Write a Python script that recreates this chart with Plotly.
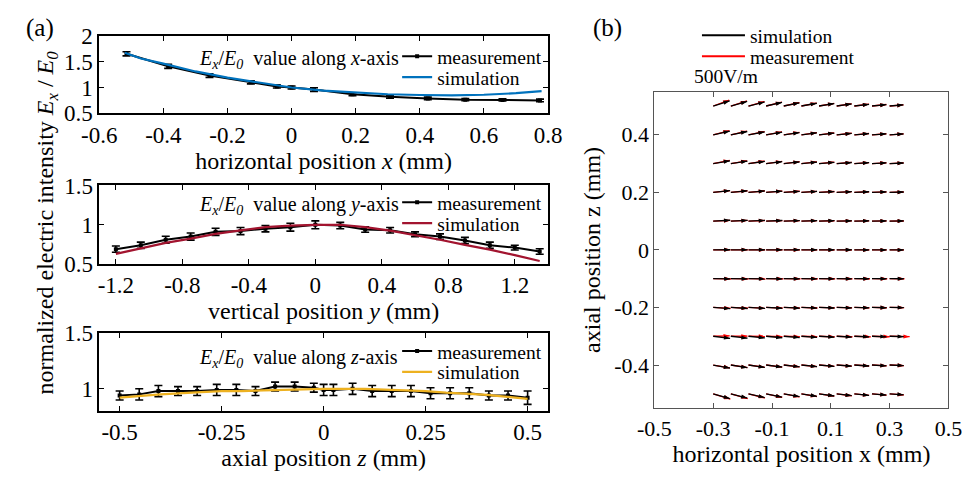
import math
import plotly.graph_objects as go

FONT = "Liberation Serif, Times New Roman, serif"
W, H = 975, 479

# ---------------- data : panel (a), along x ----------------
ax_meas_pos = [-0.515, -0.385, -0.256, -0.127, -0.046, 0.0, 0.07, 0.19, 0.307, 0.425, 0.542, 0.658, 0.775]
ax_meas_val = [1.65, 1.41, 1.23, 1.10, 1.02, 1.00, 0.96, 0.87, 0.82, 0.79, 0.765, 0.76, 0.75]
ax_meas_err = [0.04, 0.04, 0.035, 0.03, 0.03, 0.03, 0.035, 0.03, 0.025, 0.025, 0.02, 0.02, 0.025]
ax_sim_pos = [-0.52, -0.47, -0.4, -0.3, -0.2, -0.1, 0.0, 0.1, 0.2, 0.3, 0.4, 0.5, 0.6, 0.7, 0.78]
ax_sim_val = [1.67, 1.56, 1.46, 1.31, 1.19, 1.09, 1.00, 0.94, 0.90, 0.87, 0.855, 0.85, 0.86, 0.89, 0.93]

# ---------------- data : panel (a), along y ----------------
ay_meas_pos = [-1.2, -1.05, -0.9, -0.75, -0.6, -0.45, -0.3, -0.15, 0.0, 0.15, 0.3, 0.45, 0.6, 0.75, 0.9, 1.05, 1.2, 1.35]
ay_meas_val = [0.69, 0.74, 0.81, 0.85, 0.91, 0.92, 0.95, 0.97, 1.00, 0.99, 0.94, 0.93, 0.88, 0.85, 0.80, 0.74, 0.71, 0.66]
ay_meas_err = [0.04, 0.04, 0.045, 0.045, 0.045, 0.045, 0.04, 0.05, 0.05, 0.04, 0.035, 0.035, 0.03, 0.035, 0.04, 0.04, 0.03, 0.035]
ay_sim_pos = [-1.2, -1.05, -0.9, -0.75, -0.6, -0.45, -0.3, -0.15, 0.0, 0.15, 0.3, 0.45, 0.6, 0.75, 0.9, 1.05, 1.2, 1.35]
ay_sim_val = [0.63, 0.70, 0.77, 0.825, 0.885, 0.93, 0.97, 0.99, 1.00, 1.00, 0.97, 0.925, 0.87, 0.81, 0.745, 0.685, 0.615, 0.54]

# ---------------- data : panel (a), along z ----------------
az_meas_pos = [-0.5, -0.452, -0.405, -0.357, -0.31, -0.262, -0.214, -0.167, -0.119, -0.071, -0.024, 0.0,
               0.024, 0.071, 0.119, 0.167, 0.214, 0.262, 0.31, 0.357, 0.405, 0.452, 0.5]
az_meas_val = [0.94, 0.95, 0.98, 0.98, 0.98, 0.99, 0.99, 0.98, 1.02, 1.02, 1.01, 0.99,
               0.99, 1.00, 0.98, 0.98, 0.98, 0.96, 0.96, 0.96, 0.94, 0.94, 0.92]
az_meas_err = [0.04, 0.05, 0.05, 0.04, 0.04, 0.05, 0.05, 0.04, 0.04, 0.04, 0.04, 0.05,
               0.05, 0.05, 0.05, 0.05, 0.05, 0.05, 0.05, 0.05, 0.04, 0.04, 0.06]
az_sim_pos = [-0.5, -0.4, -0.3, -0.25, -0.2, -0.1, 0.0, 0.1, 0.2, 0.25, 0.3, 0.4, 0.5]
az_sim_val = [0.92, 0.95, 0.97, 0.98, 0.98, 0.99, 1.00, 1.00, 0.985, 0.98, 0.965, 0.945, 0.91]

# ---------------- tick labels ----------------
ax_ticks = [-0.6, -0.4, -0.2, 0, 0.2, 0.4, 0.6, 0.8]
ax_ticktext = ["-0.6", "-0.4", "-0.2", "0", "0.2", "0.4", "0.6", "0.8"]
ay_ticks = [-1.2, -0.8, -0.4, 0, 0.4, 0.8, 1.2]
ay_ticktext = ["-1.2", "-0.8", "-0.4", "0", "0.4", "0.8", "1.2"]
az_ticks = [-0.5, -0.25, 0, 0.25, 0.5]
az_ticktext = ["-0.5", "-0.25", "0", "0.25", "0.5"]
b_xticks = [-0.5, -0.3, -0.1, 0.1, 0.3, 0.5]
b_xticktext = ["-0.5", "-0.3", "-0.1", "0.1", "0.3", "0.5"]
b_yticks = [-0.4, -0.2, 0, 0.2, 0.4]
b_yticktext = ["-0.4", "-0.2", "0", "0.2", "0.4"]

# ---------------- data : panel (b), vector field (V/m) ----------------
x_grid = [-0.3, -0.24, -0.18, -0.12, -0.06, 0.0, 0.06, 0.12, 0.18, 0.24, 0.3]
z_grid = [0.5, 0.4, 0.3, 0.2, 0.1, 0.0, -0.1, -0.2, -0.3, -0.4, -0.5]

Ex_sim = [
    [560, 555, 548, 540, 532, 524, 516, 508, 500, 490, 470],
    [565, 558, 550, 542, 534, 526, 518, 510, 500, 490, 475],
    [570, 562, 554, 546, 538, 530, 520, 512, 502, 492, 478],
    [575, 566, 558, 550, 540, 532, 522, 514, 504, 494, 480],
    [578, 570, 560, 552, 544, 534, 525, 516, 506, 496, 482],
    [580, 572, 562, 554, 545, 536, 526, 517, 507, 497, 483],
    [580, 572, 562, 554, 545, 536, 526, 517, 507, 497, 483],
    [578, 570, 560, 552, 544, 534, 525, 516, 506, 496, 482],
    [575, 566, 558, 550, 540, 532, 522, 514, 504, 494, 480],
    [570, 562, 554, 546, 538, 530, 520, 512, 502, 492, 478],
    [565, 558, 550, 542, 534, 526, 518, 510, 500, 490, 475],
]
Ez_sim = [
    [180, 160, 142, 125, 110, 96, 84, 72, 60, 50, 40],
    [128, 114, 101, 89, 78, 68, 59, 50, 42, 35, 28],
    [95, 85, 75, 66, 58, 51, 44, 37, 31, 26, 20],
    [60, 54, 48, 42, 37, 32, 28, 24, 20, 16, 12],
    [30, 27, 24, 21, 18, 16, 14, 12, 10, 8, 6],
    [5, 4, 4, 3, 3, 2, 2, 2, 1, 1, 1],
    [-10, -9, -8, -7, -6, -5, -4, -4, -3, -3, -2],
    [-40, -36, -32, -28, -24, -21, -18, -15, -12, -10, -8],
    [-75, -67, -59, -52, -45, -39, -33, -28, -23, -19, -15],
    [-105, -94, -83, -73, -64, -56, -48, -41, -34, -28, -22],
    [-165, -148, -131, -116, -102, -89, -77, -66, -55, -45, -36],
]
Ex_meas = [
    [545, 548, 545, 540, 532, 524, 516, 508, 500, 490, 470],
    [552, 552, 548, 542, 534, 526, 518, 510, 500, 490, 475],
    [560, 558, 552, 546, 538, 530, 520, 512, 502, 492, 478],
    [572, 565, 558, 550, 540, 532, 522, 514, 504, 494, 480],
    [575, 568, 560, 552, 544, 534, 525, 516, 506, 496, 482],
    [585, 578, 568, 560, 550, 540, 530, 520, 510, 500, 486],
    [605, 598, 588, 580, 570, 560, 550, 540, 530, 520, 505],
    [590, 582, 572, 564, 555, 545, 535, 526, 516, 506, 495],
    [560, 565, 560, 555, 548, 540, 535, 540, 560, 600, 680],
    [570, 564, 556, 548, 540, 532, 522, 514, 506, 500, 490],
    [585, 575, 562, 550, 540, 530, 520, 512, 504, 495, 485],
]
Ez_meas = [
    [205, 178, 155, 135, 118, 102, 88, 75, 62, 52, 40],
    [145, 128, 112, 98, 85, 74, 63, 53, 44, 36, 28],
    [110, 97, 85, 74, 64, 55, 47, 40, 33, 27, 21],
    [62, 55, 49, 43, 38, 33, 29, 24, 20, 16, 12],
    [25, 23, 21, 19, 17, 15, 13, 11, 9, 7, 5],
    [3, 3, 2, 2, 2, 1, 1, 1, 0, 0, 0],
    [-8, -7, -6, -6, -5, -5, -4, -4, -3, -3, -2],
    [-30, -28, -25, -22, -20, -18, -16, -14, -12, -10, -8],
    [15, 5, -5, -10, -15, -18, -20, -20, -20, -18, -15],
    [-100, -90, -80, -70, -62, -54, -46, -40, -34, -28, -22],
    [-185, -165, -145, -125, -108, -94, -80, -68, -57, -47, -38],
]
SCALE = 1.0e-4   # mm of arrow per V/m

BLACK = "#000000"
BLUE = "#0072BD"
DARKRED = "#A2142F"
ORANGE = "#EDB120"
RED = "#FF0000"


def fx(px):
    return px / W


def fy(py):
    return 1 - py / H


fig = go.Figure()


def meas_trace(xs, ys, err, xa, ya, leg):
    return go.Scatter(
        x=xs, y=ys, xaxis=xa, yaxis=ya, legend=leg, name="measurement",
        mode="lines+markers", line=dict(color=BLACK, width=2),
        marker=dict(color=BLACK, size=4, symbol="square"),
        error_y=dict(type="data", array=err, visible=True, color=BLACK, thickness=1.6, width=4),
    )


def sim_trace(xs, ys, color, xa, ya, leg):
    return go.Scatter(
        x=xs, y=ys, xaxis=xa, yaxis=ya, legend=leg, name="simulation",
        mode="lines", line=dict(color=color, width=2.2),
    )


fig.add_trace(meas_trace(ax_meas_pos, ax_meas_val, ax_meas_err, "x", "y", "legend"))
fig.add_trace(sim_trace(ax_sim_pos, ax_sim_val, BLUE, "x", "y", "legend2"))
fig.add_trace(meas_trace(ay_meas_pos, ay_meas_val, ay_meas_err, "x2", "y2", "legend3"))
fig.add_trace(sim_trace(ay_sim_pos, ay_sim_val, DARKRED, "x2", "y2", "legend4"))
fig.add_trace(meas_trace(az_meas_pos, az_meas_val, az_meas_err, "x3", "y3", "legend5"))
fig.add_trace(sim_trace(az_sim_pos, az_sim_val, ORANGE, "x3", "y3", "legend6"))


def quiver(Ex, Ez):
    xs, ys, hx, hy, ang = [], [], [], [], []
    for i, z in enumerate(z_grid):
        for j, x in enumerate(x_grid):
            dx = Ex[i][j] * SCALE
            dz = Ez[i][j] * SCALE
            xs += [x, x + dx, None]
            ys += [z, z + dz, None]
            hx.append(x + dx)
            hy.append(z + dz)
            ang.append(90 - math.degrees(math.atan2(dz, dx)))
    return xs, ys, hx, hy, ang


for Ex, Ez, col in [(Ex_meas, Ez_meas, RED), (Ex_sim, Ez_sim, BLACK)]:
    xs, ys, hx, hy, ang = quiver(Ex, Ez)
    fig.add_trace(go.Scatter(x=xs, y=ys, xaxis="x4", yaxis="y4", mode="lines",
                             line=dict(color=col, width=1.3), showlegend=False, hoverinfo="skip"))
    fig.add_trace(go.Scatter(x=hx, y=hy, xaxis="x4", yaxis="y4", mode="markers",
                             marker=dict(symbol="arrow", size=6.5, angle=ang, color=col, line=dict(width=0)),
                             showlegend=False, hoverinfo="skip"))

# legend proxies for panel (b)
fig.add_trace(go.Scatter(x=[None], y=[None], xaxis="x4", yaxis="y4", mode="lines", name="simulation",
                         line=dict(color=BLACK, width=2), legend="legend7"))
fig.add_trace(go.Scatter(x=[None], y=[None], xaxis="x4", yaxis="y4", mode="lines", name="measurement",
                         line=dict(color=RED, width=2), legend="legend8"))

tickfont = dict(family=FONT, size=23, color="black")
tickfont_b = dict(family=FONT, size=22, color="black")
titlefont = dict(family=FONT, size=24, color="black")


def axis_common(**kw):
    d = dict(showline=True, linecolor="black", linewidth=1.5, mirror="allticks", ticks="inside",
             ticklen=5, tickwidth=1.2, tickcolor="black", showgrid=False, zeroline=False,
             tickfont=tickfont)
    d.update(kw)
    return d


a_xdom = [fx(84), fx(548)]
layout = dict(
    width=W, height=H, margin=dict(l=0, r=0, t=0, b=0),
    paper_bgcolor="white", plot_bgcolor="white",
    font=dict(family=FONT, color="black"),
    xaxis=axis_common(domain=a_xdom, anchor="y", range=[-0.6, 0.8], tickvals=ax_ticks, ticktext=ax_ticktext,
                      linewidth=2,
                      title=dict(text="horizontal position <i>x</i> (mm)", font=titlefont, standoff=2)),
    yaxis=axis_common(domain=[fy(107), fy(25)], anchor="x", range=[0.5, 2], tickvals=[0.5, 1, 1.5, 2],
                      ticktext=["0.5", "1", "1.5", "2"], linewidth=2),
    xaxis2=axis_common(domain=a_xdom, anchor="y2", range=[-1.3, 1.4], tickvals=ay_ticks, ticktext=ay_ticktext,
                       title=dict(text="vertical position <i>y</i> (mm)", font=titlefont, standoff=4)),
    yaxis2=axis_common(domain=[fy(266), fy(183)], anchor="x2", range=[0.5, 1.5], tickvals=[0.5, 1, 1.5],
                       ticktext=["0.5", "1", "1.5"]),
    xaxis3=axis_common(domain=a_xdom, anchor="y3", range=[-0.55, 0.55], tickvals=az_ticks, ticktext=az_ticktext,
                       title=dict(text="axial position <i>z</i> (mm)", font=titlefont, standoff=4)),
    yaxis3=axis_common(domain=[fy(421), fy(339)], anchor="x3", range=[0.8, 1.5], tickvals=[1, 1.5],
                       ticktext=["1", "1.5"]),
    xaxis4=axis_common(domain=[fx(658), fx(962)], anchor="y4", range=[-0.5, 0.5], tickvals=b_xticks,
                       ticktext=b_xticktext, linecolor="#555555", linewidth=1, tickcolor="#555555",
                       tickfont=tickfont_b,
                       title=dict(text="horizontal position x (mm)", font=titlefont, standoff=4)),
    yaxis4=axis_common(domain=[fy(418), fy(84)], anchor="x4", range=[-0.55, 0.55], tickvals=b_yticks,
                       ticktext=b_yticktext, linecolor="#555555", linewidth=1, tickcolor="#555555",
                       tickfont=tickfont_b,
                       title=dict(text="axial position z (mm)", font=titlefont, standoff=6)),
    showlegend=True,
)

legfont = dict(family=FONT, size=19.5, color="black")
leg_pos = [("legend", 392, 47, 30), ("legend2", 392, 69, 30), ("legend3", 392, 201, 30),
           ("legend4", 392, 223, 30), ("legend5", 392, 358, 30), ("legend6", 392, 380, 30),
           ("legend7", 702, 25, 43), ("legend8", 702, 47, 43)]
for name, lx, ly, iw in leg_pos:
    layout[name] = dict(x=fx(lx), y=fy(ly), xanchor="left", yanchor="middle", bgcolor="rgba(0,0,0,0)",
                        borderwidth=0, font=legfont, itemwidth=iw)

fig.update_layout(**layout)

sub = "<i>E</i><sub><i>x</i></sub>/<i>E</i><sub><i>0</i></sub>  value along <i>{}</i>-axis"
ann = []
for axis_letter, yc in [("x", 50), ("y", 204), ("z", 366)]:
    ann.append(dict(text=sub.format(axis_letter), x=fx(185), y=fy(yc), xref="paper", yref="paper",
                    xanchor="left", yanchor="middle", showarrow=False, font=dict(family=FONT, size=20)))
ann.append(dict(text="normalized electric intensity <i>E</i><sub><i>x</i></sub> / <i>E</i><sub><i>0</i></sub>",
                x=fx(30), y=fy(222), xref="paper", yref="paper", xanchor="center", yanchor="middle",
                textangle=-90, showarrow=False, font=dict(family=FONT, size=24)))
ann.append(dict(text="(a)", x=fx(6), y=fy(17), xref="paper", yref="paper", xanchor="left", yanchor="middle",
                showarrow=False, font=dict(family=FONT, size=25)))
ann.append(dict(text="(b)", x=fx(592), y=fy(17), xref="paper", yref="paper", xanchor="left", yanchor="middle",
                showarrow=False, font=dict(family=FONT, size=25)))
ann.append(dict(text="500V/m", x=fx(697), y=fy(68), xref="paper", yref="paper", xanchor="left", yanchor="middle",
                showarrow=False, font=dict(family=FONT, size=19.5)))
fig.update_layout(annotations=ann)

fig.write_html("out.html")
